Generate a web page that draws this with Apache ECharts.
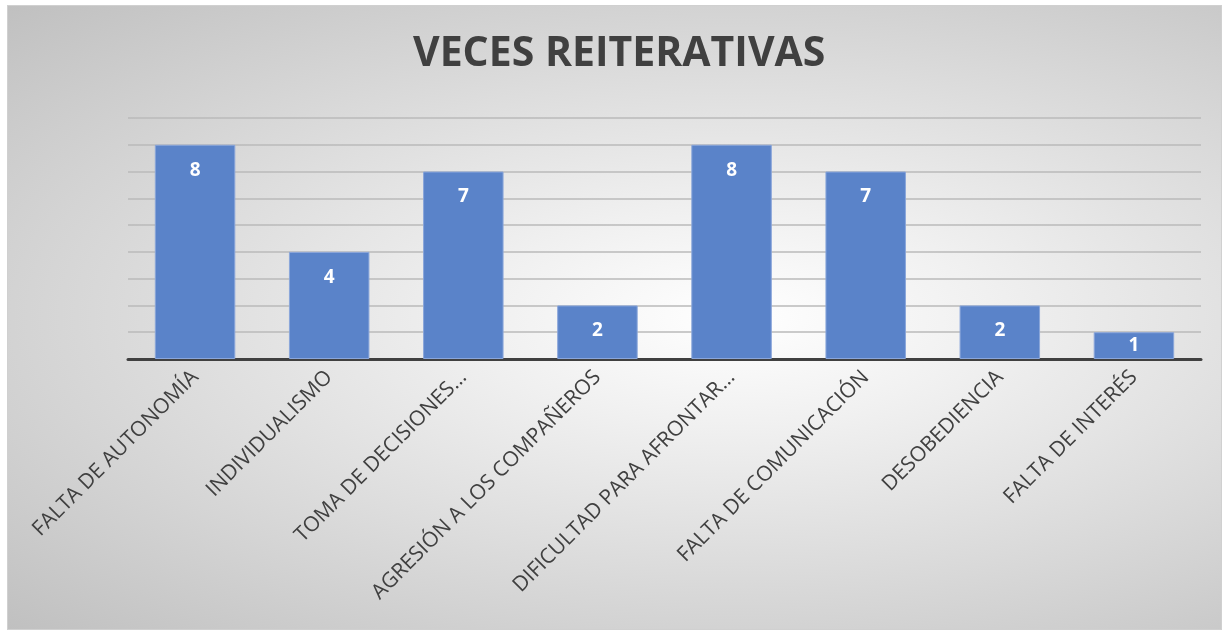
<!DOCTYPE html>
<html lang="es">
<head>
    <meta charset="UTF-8">
    <title>Veces reiterativas</title>
    <script src="https://cdn.jsdelivr.net/npm/echarts@6/dist/echarts.min.js"></script>
    <style>
        html, body { margin: 0; padding: 0; background: #fff; }
        #main {
            position: absolute; left: 7px; top: 5px;
            width: 1213px; height: 623px;
            border: 1px solid #d0d0d0;
            background: radial-gradient(ellipse at 60% 50%, #ffffff 0%, #f0f0f0 25%, #c0c0c0 100%);
        }
    </style>
</head>
<body>
    <div id="main"></div>
    <script>
        // datos del gráfico
        var categorias = ['FALTA DE AUTONOMÍA', 'INDIVIDUALISMO', 'TOMA DE DECISIONES…',
            'AGRESIÓN A LOS COMPAÑEROS', 'DIFICULTAD PARA AFRONTAR…', 'FALTA DE COMUNICACIÓN',
            'DESOBEDIENCIA', 'FALTA DE INTERÉS'];
        var veces = [8, 4, 7, 2, 8, 7, 2, 1];

        var myChart = echarts.init(document.getElementById('main'));
        var option = {
            backgroundColor: 'transparent',
            title: {
                text: 'VECES REITERATIVAS',
                left: 400,
                top: 23,
                textStyle: {
                    fontFamily: 'Open Sans',
                    fontSize: 41,
                    fontWeight: 'bold',
                    color: '#404040'
                }
            },
            grid: { left: 120, right: 20, top: 112, bottom: 270 },
            xAxis: {
                type: 'category',
                data: categorias,
                axisTick: { show: false },
                axisLine: { lineStyle: { color: '#404040', width: 3 } },
                axisLabel: {
                    rotate: 45,
                    interval: 0,
                    margin: 15,
                    fontFamily: 'Open Sans',
                    fontSize: 21,
                    color: '#404040'
                }
            },
            yAxis: {
                type: 'value',
                min: 0,
                max: 9,
                interval: 1,
                axisLabel: { show: false },
                axisLine: { show: false },
                axisTick: { show: false },
                splitLine: { lineStyle: { color: '#bababa', width: 1.5 } }
            },
            series: [{
                type: 'bar',
                // la barra pequeña lleva la etiqueta centrada
                data: veces.map(function (v) {
                    return v < 2 ? { value: v, label: { position: 'inside' } } : v;
                }),
                barCategoryGap: '40%',
                itemStyle: { color: '#5a83c9', borderColor: '#8aa6da', borderWidth: 1 },
                label: {
                    show: true,
                    position: 'insideTop',
                    distance: 16,
                    color: '#fff',
                    fontFamily: 'Open Sans',
                    fontWeight: 'bold',
                    fontSize: 19
                }
            }]
        };
        myChart.setOption(option);
    </script>
</body>
</html>
